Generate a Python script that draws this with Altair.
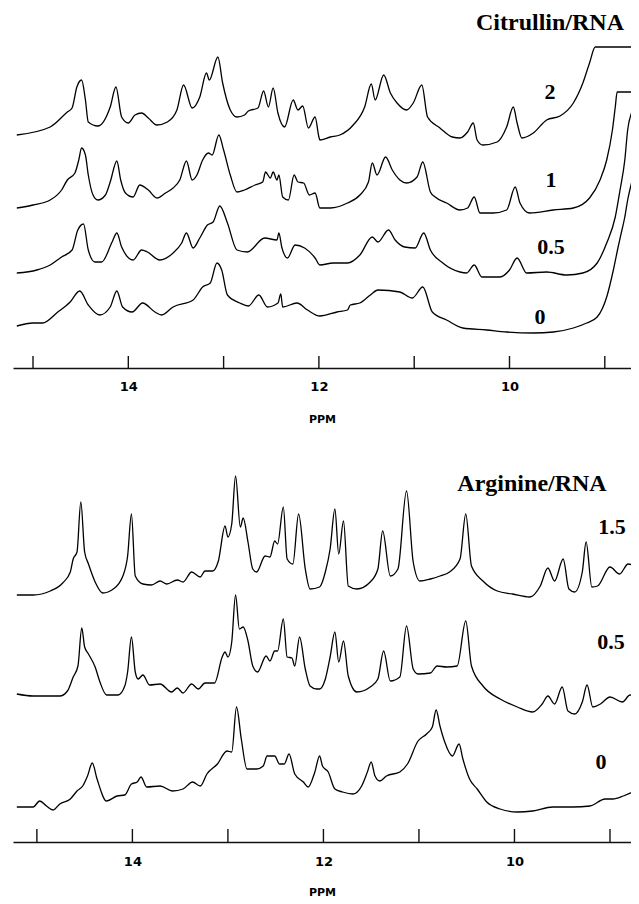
import altair as alt
import pandas as pd

# ---------------- Citrullin/RNA spectra (ppm, intensity above own baseline) ----------------
CIT2_PPM = [15.17,14.82,14.64,14.59,14.54,14.49,14.45,14.42,14.32,14.19,14.13,14.07,14.00,13.93,13.86,13.79,13.70,13.59,13.49,13.42,13.33,13.25,13.18,13.15,13.06,13.01,12.93,12.86,12.78,12.74,12.64,12.58,12.53,12.48,12.43,12.36,12.27,12.22,12.17,12.11,12.04,12.00,11.99,11.88,11.78,11.64,11.52,11.45,11.41,11.32,11.25,11.18,11.08,11.01,10.92,10.86,10.73,10.60,10.52,10.44,10.38,10.34,10.28,10.13,10.03,9.96,9.92,9.87,9.75,9.61,9.47,9.33,9.23,9.16,9.10,8.71]
CIT2_INT = [0,8,23,27,48,55,35,13,9,28,48,18,12,20,22,17,10,13,25,50,27,38,62,55,78,52,25,18,20,24,27,44,28,47,22,8,35,25,29,7,18,-2,-5,-2,0,10,28,51,35,60,42,32,25,32,50,18,7,-2,-3,3,12,-5,-10,-7,8,28,12,-3,2,15,19,32,52,72,88,88]

CIT1_PPM = [15.17,15.00,14.82,14.70,14.64,14.56,14.52,14.49,14.45,14.42,14.37,14.32,14.24,14.19,14.12,14.08,14.03,13.95,13.88,13.79,13.70,13.61,13.53,13.46,13.39,13.33,13.28,13.22,13.16,13.12,13.05,13.00,12.93,12.86,12.78,12.67,12.59,12.56,12.51,12.48,12.44,12.42,12.38,12.32,12.26,12.22,12.16,12.10,12.04,11.99,11.88,11.70,11.57,11.48,11.44,11.39,11.30,11.23,11.15,11.08,10.97,10.91,10.83,10.78,10.66,10.52,10.44,10.37,10.31,10.17,10.03,9.94,9.89,9.79,9.54,9.33,9.16,9.05,8.98,8.92,8.89,8.87,8.71]
CIT1_INT = [0,3,8,18,28,35,48,60,53,33,13,8,13,26,47,28,15,11,23,18,10,15,20,28,47,28,33,48,55,53,73,58,33,16,18,23,26,36,30,36,28,33,11,8,33,26,25,13,15,0,0,5,13,26,45,33,51,38,28,25,31,46,16,11,5,-2,0,11,-5,-5,-2,21,5,-5,-2,0,10,28,48,78,101,116,116]

CIT05_PPM = [15.17,14.96,14.82,14.70,14.59,14.53,14.47,14.42,14.35,14.28,14.17,14.12,14.07,13.95,13.86,13.80,13.67,13.53,13.44,13.39,13.32,13.25,13.17,13.11,13.04,12.96,12.86,12.75,12.57,12.44,12.42,12.39,12.33,12.25,12.15,12.04,11.99,11.85,11.70,11.57,11.44,11.38,11.27,11.20,11.10,10.99,10.90,10.83,10.70,10.52,10.45,10.37,10.29,10.10,10.00,9.92,9.82,9.61,9.40,9.23,9.08,8.98,8.89,8.84,8.79,8.76,8.72]
CIT05_INT = [0,3,8,16,23,43,49,23,11,11,31,40,26,13,23,21,13,20,30,40,25,35,48,51,67,50,23,21,35,33,40,26,15,28,25,15,8,10,10,18,36,31,43,33,26,25,40,23,10,1,0,8,-4,-4,3,15,0,1,-2,0,10,30,56,83,113,143,160]

CIT0_PPM = [15.17,15.00,14.90,14.74,14.61,14.51,14.42,14.30,14.19,14.12,14.06,13.96,13.85,13.72,13.65,13.53,13.32,13.22,13.14,13.07,13.02,12.96,12.83,12.74,12.63,12.54,12.43,12.40,12.38,12.23,12.12,11.99,11.81,11.70,11.67,11.57,11.46,11.38,11.15,11.02,10.91,10.81,10.66,10.49,10.24,10.03,9.75,9.54,9.33,9.19,9.08,8.98,8.91,8.86,8.82,8.79,8.76,8.72]
CIT0_INT = [0,3,3,14,24,35,21,11,19,35,19,14,23,14,11,19,26,39,43,63,56,31,23,20,31,19,23,32,19,23,16,10,14,16,21,23,31,36,34,28,39,14,6,-2,-4,-6,-7,-6,-2,3,9,29,56,79,96,109,126,143]

CIT_NAMES = ["2", "1", "0.5", "0"]
CIT_OFFSETS = [233, 160, 95, 42]

# ---------------- Arginine/RNA spectra ----------------
ARG15_PPM = [15.21,15.04,14.86,14.73,14.65,14.62,14.58,14.54,14.50,14.46,14.39,14.31,14.20,14.10,14.05,14.01,13.97,13.89,13.80,13.71,13.64,13.53,13.47,13.38,13.29,13.24,13.16,13.10,13.03,13.00,12.96,12.92,12.87,12.84,12.79,12.74,12.70,12.61,12.56,12.51,12.48,12.42,12.38,12.32,12.26,12.19,12.14,12.04,11.98,11.93,11.88,11.84,11.79,11.74,11.65,11.51,11.43,11.38,11.30,11.22,11.13,11.06,10.99,10.88,10.78,10.68,10.57,10.51,10.45,10.33,10.18,10.02,9.84,9.73,9.65,9.58,9.49,9.43,9.37,9.29,9.25,9.19,9.13,9.00,8.90,8.81,8.74]
ARG15_INT = [0,0,4,12,23,36,43,93,43,31,13,2,6,19,39,81,19,11,10,14,11,15,13,23,18,24,24,34,69,58,71,119,68,77,53,26,23,39,38,54,51,88,36,31,81,26,6,8,23,46,86,41,74,9,6,13,26,64,19,26,104,33,14,16,19,23,36,81,29,14,4,1,-2,9,27,14,36,6,3,23,53,8,9,28,21,31,29]

ARG05_PPM = [15.21,15.04,14.86,14.76,14.68,14.62,14.57,14.53,14.50,14.46,14.39,14.34,14.27,14.15,14.08,14.05,14.01,13.97,13.94,13.89,13.82,13.71,13.59,13.53,13.47,13.38,13.31,13.24,13.14,13.06,13.03,13.00,12.96,12.92,12.88,12.84,12.79,12.74,12.69,12.60,12.56,12.51,12.48,12.42,12.38,12.33,12.30,12.25,12.19,12.14,12.07,12.04,11.98,11.93,11.88,11.84,11.79,11.74,11.65,11.51,11.43,11.37,11.30,11.20,11.13,11.06,11.01,10.88,10.81,10.71,10.60,10.51,10.45,10.33,10.15,9.97,9.81,9.71,9.65,9.58,9.50,9.44,9.37,9.29,9.24,9.18,9.10,9.00,8.87,8.79,8.73]
ARG05_INT = [1,-1,-1,-1,4,18,29,67,48,41,28,13,0,0,9,23,58,23,16,20,10,11,3,7,2,11,6,12,12,38,43,38,53,100,66,68,54,29,23,39,34,44,44,76,38,37,29,58,26,9,6,6,16,38,63,33,54,19,3,8,16,44,14,18,69,26,21,22,29,28,29,74,29,9,-4,-12,-17,-9,-1,-9,8,-16,-19,-7,10,-12,-9,-2,-7,0,-1]

ARG0_PPM = [15.21,15.04,14.97,14.90,14.83,14.76,14.65,14.58,14.52,14.47,14.42,14.37,14.27,14.16,14.08,14.01,13.95,13.91,13.85,13.71,13.58,13.47,13.37,13.29,13.22,13.11,13.01,12.96,12.91,12.86,12.80,12.70,12.63,12.59,12.51,12.46,12.41,12.36,12.30,12.21,12.16,12.09,12.04,12.01,11.95,11.88,11.80,11.69,11.60,11.54,11.50,11.46,11.41,11.34,11.20,11.12,11.01,10.92,10.86,10.82,10.78,10.73,10.65,10.58,10.54,10.47,10.39,10.29,10.15,9.97,9.81,9.60,9.39,9.21,9.05,8.97,8.86,8.74]
ARG0_INT = [0,0,6,1,-3,3,8,16,21,31,44,28,6,11,12,23,25,30,20,21,16,18,25,21,33,43,56,55,100,68,38,38,41,51,51,43,43,53,33,25,20,35,51,41,35,18,15,13,21,35,45,31,26,31,35,43,66,73,80,97,81,65,51,63,48,28,18,5,-2,-5,-4,0,0,1,8,8,11,16]

ARG_NAMES = ["1.5", "0.5", "0"]
ARG_OFFSETS = [247, 147, 35]

# ---------------- labels ----------------
CIT_LABEL_TEXT = ["Citrullin/RNA", "2", "1", "0.5", "0"]
CIT_LABEL_PPM = [9.575, 9.575, 9.564, 9.564, 9.68]
CIT_LABEL_VAL = [345, 276, 188, 121, 51]
CIT_LABEL_SIZE = [24, 22, 22, 22, 22]

ARG_LABEL_TEXT = ["Arginine/RNA", "1.5", "0.5", "0"]
ARG_LABEL_PPM = [9.816, 8.979, 8.99, 9.094]
ARG_LABEL_VAL = [358, 315, 200, 80]
ARG_LABEL_SIZE = [24, 22, 22, 22]

TICK_PPM = [15, 14, 13, 12, 11, 10, 9]
LABELED_TICKS = [14, 12, 10]

W = 618
TOP_H = 360
BOT_H = 398


def build(ppms, ints, offsets, names):
    frames = []
    for p, i, o, n in zip(ppms, ints, offsets, names):
        frames.append(pd.DataFrame({"ppm": p, "v": [o + k for k in i], "trace": n}))
    return pd.concat(frames, ignore_index=True)


cit_df = build([CIT2_PPM, CIT1_PPM, CIT05_PPM, CIT0_PPM],
               [CIT2_INT, CIT1_INT, CIT05_INT, CIT0_INT], CIT_OFFSETS, CIT_NAMES)
arg_df = build([ARG15_PPM, ARG05_PPM, ARG0_PPM],
               [ARG15_INT, ARG05_INT, ARG0_INT], ARG_OFFSETS, ARG_NAMES)

cit_lab = pd.DataFrame({"ppm": CIT_LABEL_PPM, "v": CIT_LABEL_VAL, "txt": CIT_LABEL_TEXT, "fs": CIT_LABEL_SIZE})
arg_lab = pd.DataFrame({"ppm": ARG_LABEL_PPM, "v": ARG_LABEL_VAL, "txt": ARG_LABEL_TEXT, "fs": ARG_LABEL_SIZE})
ticks_df = pd.DataFrame({"ppm": TICK_PPM})


def panel(df, lab, domain, height, tick_len, title_pad, label_pad):
    x = alt.X("ppm:Q",
              scale=alt.Scale(domain=domain, reverse=True, nice=False, zero=False),
              axis=alt.Axis(values=LABELED_TICKS, format="d", ticks=False, tickSize=0, grid=False,
                            domain=True, domainColor="#111111", domainWidth=1.6,
                            labelPadding=label_pad, labelFontSize=13, labelFont="DejaVu Sans",
                            labelFontWeight="bold", labelColor="black",
                            title="PPM", titleFont="DejaVu Sans", titleFontSize=11,
                            titleFontWeight="bold", titleColor="black", titlePadding=title_pad))
    y = alt.Y("v:Q", scale=alt.Scale(domain=[0, height], nice=False, zero=False), axis=None)
    lines = alt.Chart(df).mark_line(color="black", strokeWidth=1.3, clip=True,
                                    interpolate="monotone").encode(
        x=x, y=y, detail="trace:N")
    rules = alt.Chart(ticks_df).mark_rule(color="#111111", strokeWidth=1.4).encode(
        x=x, y=alt.value(height - tick_len), y2=alt.value(height))
    texts = alt.Chart(lab).mark_text(font="Liberation Serif", fontWeight="bold", color="black",
                                     align="center", baseline="middle").encode(
        x=x, y=y, text="txt:N", size=alt.Size("fs:Q", scale=None))
    return alt.layer(lines, rules, texts).properties(width=W, height=height)


top = panel(cit_df, cit_lab, [8.725, 15.21], TOP_H, 12, 20, 12)
bottom = panel(arg_df, arg_lab, [8.78, 15.25], BOT_H, 13, 18, 13)

chart = alt.vconcat(top, bottom, spacing=20).resolve_scale(x="independent", y="independent").properties(
    padding={"left": 5, "top": 0, "right": 0, "bottom": 0}
).configure(background="white").configure_view(strokeWidth=0, stroke="transparent")

chart.save("out.html", embed_options={"renderer": "svg", "actions": False})
